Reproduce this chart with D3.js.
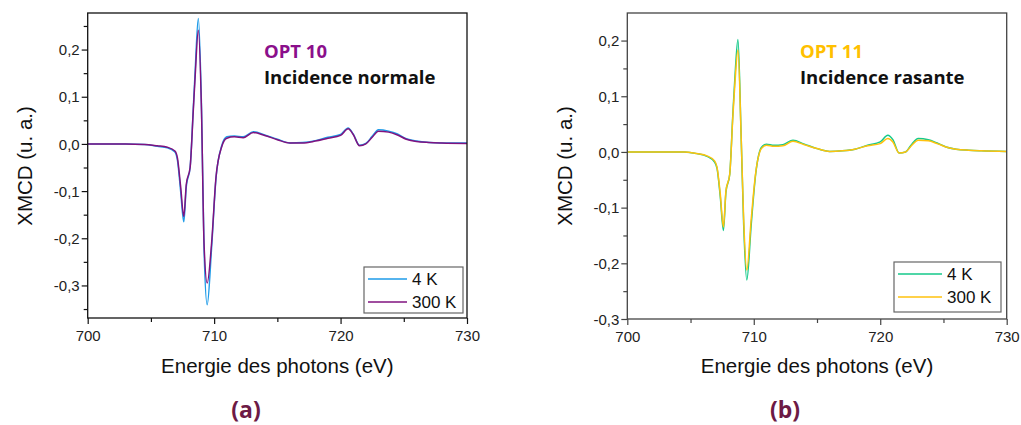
<!DOCTYPE html>
<html><head><meta charset="utf-8">
<script src="https://cdn.jsdelivr.net/npm/d3@7/dist/d3.min.js"></script>
<style>body{margin:0;background:#fff}svg{display:block}</style>
</head><body>
<svg id="c" width="1021" height="425"></svg>
<script>
// ---- data ----
const energy = [700, 703, 704.5, 705.5, 706.3, 706.9, 707.1, 707.35, 707.6, 707.8, 708.1, 708.35, 708.5, 708.75, 709.0, 709.2, 709.45, 709.8, 710.15, 710.6, 711.0, 711.6, 712.3, 713.1, 714.0, 715.0, 716.0, 717.0, 718.0, 719.0, 720.0, 720.6, 721.0, 721.5, 722.0, 722.5, 723.0, 723.8, 724.5, 725.2, 726.0, 727.0, 728.0, 730.0];
const opt10_4K = [0, 0, -0.001, -0.005, -0.008, -0.017, -0.035, -0.1, -0.165, -0.09, -0.05, 0.075, 0.155, 0.266, 0.08, -0.22, -0.341, -0.22, -0.072, -0.004, 0.015, 0.017, 0.015, 0.026, 0.019, 0.01, 0.002, 0.003, 0.007, 0.014, 0.02, 0.034, 0.021, -0.003, 0.001, 0.016, 0.03, 0.027, 0.021, 0.011, 0.006, 0.003, 0.002, 0.002];
const opt10_300K = [0, 0, -0.001, -0.004, -0.007, -0.015, -0.03, -0.09, -0.154, -0.085, -0.05, 0.07, 0.143, 0.241, 0.07, -0.21, -0.295, -0.21, -0.07, -0.006, 0.012, 0.015, 0.013, 0.024, 0.018, 0.009, 0.002, 0.002, 0.006, 0.012, 0.018, 0.032, 0.02, -0.004, 0.0, 0.014, 0.027, 0.025, 0.019, 0.01, 0.005, 0.003, 0.002, 0.001];
const opt11_4K = [0, 0, 0, -0.003, -0.008, -0.018, -0.03, -0.08, -0.141, -0.072, -0.04, 0.07, 0.13, 0.202, 0.03, -0.13, -0.23, -0.13, -0.04, 0.008, 0.014, 0.012, 0.013, 0.021, 0.014, 0.006, 0.001, 0.002, 0.005, 0.012, 0.018, 0.03, 0.022, -0.002, 0.0, 0.014, 0.024, 0.022, 0.016, 0.009, 0.005, 0.003, 0.002, 0.001];
const opt11_300K = [0, 0, 0, -0.003, -0.007, -0.016, -0.028, -0.075, -0.135, -0.07, -0.04, 0.065, 0.12, 0.183, 0.03, -0.12, -0.212, -0.12, -0.038, 0.006, 0.012, 0.01, 0.011, 0.019, 0.013, 0.006, 0.001, 0.002, 0.005, 0.011, 0.015, 0.024, 0.018, -0.002, 0.0, 0.012, 0.021, 0.02, 0.015, 0.009, 0.005, 0.003, 0.002, 0.001];
const xTicks = [700, 710, 720, 730];
const yTicksA = [0.2, 0.1, 0.0, -0.1, -0.2, -0.3];
const yTicksB = [0.2, 0.1, 0.0, -0.1, -0.2, -0.3];
const legendLabels = ["4 K", "300 K"];
const titlesA = ["OPT 10", "Incidence normale"];
const titlesB = ["OPT 11", "Incidence rasante"];
const panelLabels = ["(a)", "(b)"];

const svg = d3.select("#c");
const fmt = v => d3.format(".1f")(v).replace(".", ",").replace("−", "-");
const SANS = "Liberation Sans, Arial, sans-serif";

function panel(o) {
  const g = svg.append("g");
  const x = d3.scaleLinear().domain([700, 730]).range([o.left, o.right]);
  const y = d3.scaleLinear().domain(o.yDomain).range([o.bottom, o.top]);
  const line = d3.line().x((d, i) => x(energy[i])).y(d => y(d)).curve(d3.curveMonotoneX);

  const clip = "clip" + o.id;
  svg.append("clipPath").attr("id", clip).append("rect")
    .attr("x", o.left).attr("y", o.top).attr("width", o.right - o.left).attr("height", o.bottom - o.top);
  const cg = g.append("g").attr("clip-path", `url(#${clip})`);
  o.series.forEach((s, i) => {
    cg.append("path").attr("d", line(s)).attr("fill", "none")
      .attr("stroke", o.colors[i]).attr("stroke-width", 1.5).attr("stroke-linejoin", "round");
  });

  g.append("rect").attr("x", o.left).attr("y", o.top).attr("width", o.right - o.left).attr("height", o.bottom - o.top)
    .attr("fill", "none").attr("stroke", o.axisColor).attr("stroke-width", 1.3);

  const xa = g.append("g").attr("transform", `translate(0,${o.bottom})`)
    .call(d3.axisBottom(x).tickValues(xTicks).tickSize(6).tickFormat(d3.format("d")));
  const xm = g.append("g").attr("transform", `translate(0,${o.bottom})`)
    .call(d3.axisBottom(x).tickValues([705, 715, 725]).tickSize(4).tickFormat(""));
  const ya = g.append("g").attr("transform", `translate(${o.left},0)`)
    .call(d3.axisLeft(y).tickValues(o.yTicks).tickSize(6).tickFormat(fmt));
  const minors = d3.range(-0.35, 0.3, 0.1).map(v => +v.toFixed(2)).filter(v => v >= o.yDomain[0] - 1e-9 && v <= o.yDomain[1]);
  const ym = g.append("g").attr("transform", `translate(${o.left},0)`)
    .call(d3.axisLeft(y).tickValues(minors).tickSize(4).tickFormat(""));
  [xa, xm, ya, ym].forEach(a => {
    a.select(".domain").remove();
    a.selectAll("line").attr("stroke", o.axisColor).attr("stroke-width", 1.2);
    a.selectAll("text").attr("fill", "#222").style("font-family", SANS).style("font-size", "15px");
  });
  xa.selectAll("text").attr("dy", null).attr("y", 23);
  ya.selectAll("text").attr("x", -8).attr("dy", "0.35em");

  g.append("text").attr("x", (o.left + o.right) / 2).attr("y", 373).attr("text-anchor", "middle")
    .style("font-family", SANS).style("font-size", "20.5px").attr("fill", "#111")
    .text("Energie des photons (eV)");
  g.append("text").attr("transform", `translate(${o.left - 55.5},166) rotate(-90)`)
    .attr("text-anchor", "middle")
    .style("font-family", SANS).style("font-size", "20.5px").attr("fill", "#111")
    .text("XMCD (u. a.)");

  g.append("text").attr("x", o.titleX).attr("y", 58).text(o.titles[0])
    .style("font-family", "Open Sans, sans-serif").style("font-weight", "bold").style("font-size", "18.5px").attr("fill", o.titleColor);
  g.append("text").attr("x", o.titleX).attr("y", 84).text(o.titles[1])
    .style("font-family", "Open Sans, sans-serif").style("font-weight", "bold").style("font-size", "18.5px").attr("fill", "#111");

  const L = o.legend;
  g.append("rect").attr("x", L.x).attr("y", L.y).attr("width", L.w).attr("height", L.h)
    .attr("fill", "#fff").attr("stroke", "#666").attr("stroke-width", 1.2);
  legendLabels.forEach((lab, i) => {
    const yy = L.y + 12 + i * 23;
    g.append("line").attr("x1", L.x + 4).attr("x2", L.x + L.lineW).attr("y1", yy).attr("y2", yy)
      .attr("stroke", o.colors[i]).attr("stroke-width", 1.5);
    g.append("text").attr("x", L.x + L.lineW + 5).attr("y", yy + 6).text(lab)
      .style("font-family", SANS).style("font-size", "17px").attr("fill", "#111");
  });

  g.append("text").attr("x", o.labelX).attr("y", 418).attr("text-anchor", "middle").text(o.label)
    .style("font-family", "Open Sans, sans-serif").style("font-weight", "bold").style("font-size", "23px").attr("fill", "#6d1a45");
}

panel({
  id: "a", left: 87.7, right: 467, top: 13, bottom: 318, yDomain: [-0.369, 0.2775], yTicks: yTicksA,
  series: [opt10_4K, opt10_300K], colors: ["#1e9be8", "#80127f"], axisColor: "#111",
  titles: titlesA, titleX: 264, titleColor: "#8b0f8b",
  legend: { x: 364, y: 267, w: 99, h: 46, lineW: 43 }, label: panelLabels[0], labelX: 246
});
panel({
  id: "b", left: 627.3, right: 1006.7, top: 13, bottom: 319, yDomain: [-0.3, 0.2495], yTicks: yTicksB,
  series: [opt11_4K, opt11_300K], colors: ["#14c98a", "#ffc20e"], axisColor: "#444",
  titles: titlesB, titleX: 800, titleColor: "#ffc000",
  legend: { x: 894, y: 262, w: 107, h: 50, lineW: 48 }, label: panelLabels[1], labelX: 785
});
</script>
</body></html>
